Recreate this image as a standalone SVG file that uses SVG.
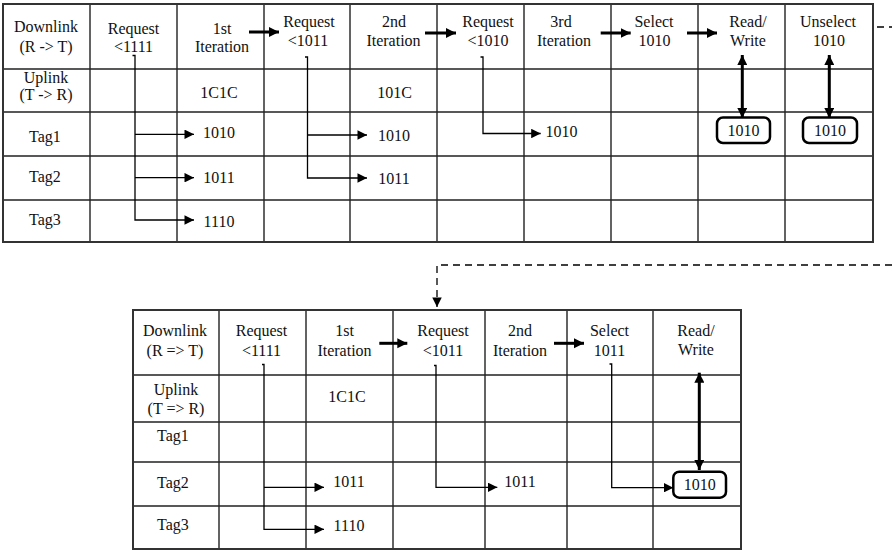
<svg xmlns="http://www.w3.org/2000/svg" width="892" height="550" viewBox="0 0 892 550">
<defs>
<style>
text{font-family:"Liberation Serif","Times New Roman",serif;font-size:16px;fill:#111;text-anchor:middle}
.grid{stroke:#222;stroke-width:1.4;fill:none}
.border{stroke:#333;stroke-width:2;fill:none}
.thin{stroke:#000;stroke-width:1.3;fill:none}
.thick{stroke:#000;stroke-width:3;fill:none}
.dash{stroke:#000;stroke-width:1.3;fill:none;stroke-dasharray:7 5}
.box{stroke:#000;stroke-width:2.5;fill:#fff}
</style>
<marker id="ah" viewBox="0 0 10 10" refX="10" refY="5" markerWidth="10" markerHeight="9.5" markerUnits="userSpaceOnUse" orient="auto"><path d="M0,0 L10,5 L0,10 z" fill="#000"/></marker>
<marker id="ahb" viewBox="0 0 10 10" refX="10" refY="5" markerWidth="10" markerHeight="11" markerUnits="userSpaceOnUse" orient="auto"><path d="M0,0 L10,5 L0,10 z" fill="#000"/></marker>
<marker id="ahv" viewBox="0 0 10 10" refX="10" refY="5" markerWidth="12" markerHeight="10" markerUnits="userSpaceOnUse" orient="auto-start-reverse"><path d="M0,0 L10,5 L0,10 z" fill="#000"/></marker>
</defs>

<g id="table1">
<path class="grid" d="M3,69H873M3,112H873M3,156H873M3,200H873M90,4V242M177,4V242M264,4V242M350,4V242M437,4V242M524,4V242M611,4V242M698,4V242M785,4V242"/>
<rect class="border" x="3" y="4" width="870" height="238"/>
</g>

<g id="table2">
<path class="grid" d="M133,375H741M133,422H741M133,462H741M133,506H741M219,310V549M306,310V549M393,310V549M485,310V549M567,310V549M653,310V549"/>
<rect class="border" x="133" y="310" width="608" height="239"/>
</g>

<g id="connectors">
<path class="thin" d="M132.5,55.5H135V220H194" marker-end="url(#ah)"/>
<path class="thin" d="M135,134.3H194" marker-end="url(#ah)"/>
<path class="thin" d="M135,177.7H194" marker-end="url(#ah)"/>
<path class="thin" d="M305,57H307.5V178H367" marker-end="url(#ah)"/>
<path class="thin" d="M307.5,135H367" marker-end="url(#ah)"/>
<path class="thin" d="M480.5,57H483V133.5H540.7" marker-end="url(#ah)"/>
<path class="thick" d="M249,32H279" marker-end="url(#ahb)"/>
<path class="thick" d="M425,33H456" marker-end="url(#ahb)"/>
<path class="thick" d="M600.7,33H630.7" marker-end="url(#ahb)"/>
<path class="thick" d="M687,33H717" marker-end="url(#ahb)"/>
<path class="thick" d="M742.3,55V118" marker-start="url(#ahv)" marker-end="url(#ahv)"/>
<path class="thick" d="M829.3,55V118" marker-start="url(#ahv)" marker-end="url(#ahv)"/>
<path class="dash" d="M877,27H892"/>
<path class="dash" d="M892,265H437V307" marker-end="url(#ah)"/>
<path class="thin" d="M262,364.5H264V529.3H324" marker-end="url(#ah)"/>
<path class="thin" d="M264,487.3H324" marker-end="url(#ah)"/>
<path class="thin" d="M434,365.5H436V487.3H497.3" marker-end="url(#ah)"/>
<path class="thin" d="M609.5,364H611.7V487.7H673.3" marker-end="url(#ah)"/>
<path class="thick" d="M379.3,343.3H407.3" marker-end="url(#ahb)"/>
<path class="thick" d="M554,343.3H584" marker-end="url(#ahb)"/>
<path class="thick" d="M699.3,372.7V470" marker-start="url(#ahv)" marker-end="url(#ahv)"/>
</g>

<g id="t1-downlink"><text x="46" y="32">Downlink</text><text x="46" y="52">(R -&gt; T)</text></g>
<g id="t1-uplink"><text x="46" y="83">Uplink</text><text x="46" y="100">(T -&gt; R)</text></g>
<g id="t1-tag1"><text x="45" y="142">Tag1</text></g>
<g id="t1-tag2"><text x="45" y="182">Tag2</text></g>
<g id="t1-tag3"><text x="45" y="225">Tag3</text></g>
<g id="t1-req1"><text x="133.5" y="34">Request</text><text x="133.5" y="52">&lt;1111</text></g>
<g id="t1-iter1"><text x="222" y="34">1st</text><text x="222" y="52">Iteration</text></g>
<g id="t1-up1"><text x="219" y="98">1C1C</text></g>
<g id="t1-r1a"><text x="219" y="138">1010</text></g>
<g id="t1-r1b"><text x="219" y="183">1011</text></g>
<g id="t1-r1c"><text x="219" y="227">1110</text></g>
<g id="t1-req2"><text x="309" y="27">Request</text><text x="308" y="46">&lt;1011</text></g>
<g id="t1-iter2"><text x="394" y="27">2nd</text><text x="393.5" y="46">Iteration</text></g>
<g id="t1-up2"><text x="394.5" y="98">101C</text></g>
<g id="t1-r2a"><text x="394" y="141">1010</text></g>
<g id="t1-r2b"><text x="394" y="184">1011</text></g>
<g id="t1-req3"><text x="488" y="27">Request</text><text x="488" y="46">&lt;1010</text></g>
<g id="t1-iter3"><text x="561" y="27">3rd</text><text x="564" y="46">Iteration</text></g>
<g id="t1-r3a"><text x="561.5" y="137">1010</text></g>
<g id="t1-select"><text x="654" y="27">Select</text><text x="654.5" y="46">1010</text></g>
<g id="t1-rw"><text x="748" y="27">Read/</text><text x="748" y="46">Write</text></g>
<g id="t1-unselect"><text x="828" y="27">Unselect</text><text x="829" y="46">1010</text></g>
<g id="t1-box1"><rect class="box" x="717" y="117.5" width="53" height="25.5" rx="6"/><text x="743.5" y="136">1010</text></g>
<g id="t1-box2"><rect class="box" x="803" y="117.5" width="54" height="25.5" rx="6"/><text x="830" y="136">1010</text></g>

<g id="t2-downlink"><text x="175" y="336">Downlink</text><text x="175" y="356">(R =&gt; T)</text></g>
<g id="t2-uplink"><text x="176" y="395">Uplink</text><text x="176" y="414">(T =&gt; R)</text></g>
<g id="t2-tag1"><text x="173" y="441">Tag1</text></g>
<g id="t2-tag2"><text x="173" y="488">Tag2</text></g>
<g id="t2-tag3"><text x="173" y="530">Tag3</text></g>
<g id="t2-req1"><text x="261.5" y="336">Request</text><text x="261.5" y="356">&lt;1111</text></g>
<g id="t2-iter1"><text x="344.5" y="336">1st</text><text x="344.5" y="356">Iteration</text></g>
<g id="t2-up1"><text x="347" y="402">1C1C</text></g>
<g id="t2-r1a"><text x="349" y="487">1011</text></g>
<g id="t2-r1b"><text x="349" y="531">1110</text></g>
<g id="t2-req2"><text x="443" y="336">Request</text><text x="443" y="356">&lt;1011</text></g>
<g id="t2-r2a"><text x="520" y="487">1011</text></g>
<g id="t2-iter2"><text x="520" y="336">2nd</text><text x="520" y="356">Iteration</text></g>
<g id="t2-select"><text x="609.5" y="336">Select</text><text x="609.5" y="356">1011</text></g>
<g id="t2-rw"><text x="696" y="336">Read/</text><text x="696" y="355">Write</text></g>
<g id="t2-box"><rect class="box" x="673.3" y="471.7" width="52.7" height="26" rx="6"/><text x="699.7" y="490">1010</text></g>
</svg>
